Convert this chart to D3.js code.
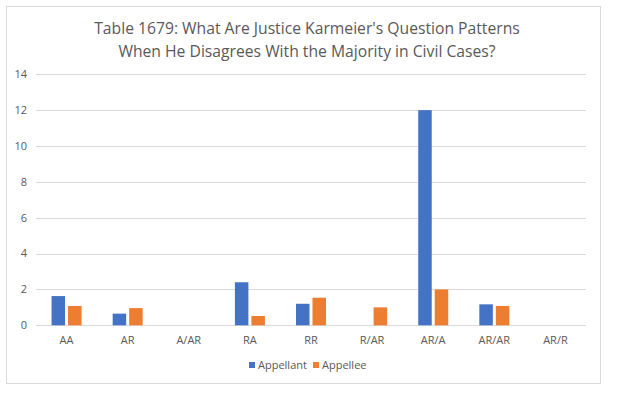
<!DOCTYPE html>
<html>
<head>
<meta charset="utf-8">
<script src="https://cdn.jsdelivr.net/npm/d3@7"></script>
<style>
  body { margin: 0; background: #fff; }
  text { font-family: "Open Sans", "Noto Sans", sans-serif; fill: #595959; }
</style>
</head>
<body>
<svg id="chart" width="620" height="393"></svg>
<script>
var categories = ["AA", "AR", "A/AR", "RA", "RR", "R/AR", "AR/A", "AR/AR", "AR/R"];
var appellant = [1.63, 0.65, 0, 2.4, 1.2, 0, 12, 1.17, 0];
var appellee = [1.08, 0.96, 0, 0.52, 1.54, 1.0, 2.0, 1.08, 0];
var yTicks = [0, 2, 4, 6, 8, 10, 12, 14];
var seriesNames = ["Appellant", "Appellee"];
var COLORS = ["#4472C4", "#ED7D31"];

var svg = d3.select("#chart");

// outer frame
svg.append("rect").attr("x", 6.5).attr("y", 6.5).attr("width", 594).attr("height", 377)
  .attr("fill", "#fff").attr("stroke", "#d9d9d9");

svg.append("text").attr("x", 307).attr("y", 34).attr("text-anchor", "middle")
  .style("font-size", "15.7px").text("Table 1679: What Are Justice Karmeier's Question Patterns");
svg.append("text").attr("x", 307).attr("y", 57).attr("text-anchor", "middle")
  .style("font-size", "15.7px").text("When He Disagrees With the Majority in Civil Cases?");

var plotL = 36, plotR = 586, plotT = 74.3, plotB = 325.3;

var y = d3.scaleLinear().domain([0, 14]).range([plotB, plotT]);
var x = d3.scaleBand().domain(categories).range([plotL, plotR]);
var BARW = 13.5, GAP = 3;

// gridlines
svg.append("g").selectAll("line").data(yTicks).enter().append("line")
  .attr("x1", plotL).attr("x2", plotR)
  .attr("y1", d => Math.round(y(d)) + 0.5).attr("y2", d => Math.round(y(d)) + 0.5)
  .attr("stroke", "#d9d9d9");

svg.append("g").selectAll("text").data(yTicks).enter().append("text")
  .attr("x", 27).attr("y", d => y(d)).attr("dy", "0.35em").attr("text-anchor", "end")
  .style("font-size", "11px").text(d => d);

svg.append("g").selectAll("text").data(categories).enter().append("text")
  .attr("x", d => x(d) + x.bandwidth() / 2).attr("y", 344).attr("text-anchor", "middle")
  .style("font-size", "11px").text(d => d);

[appellant, appellee].forEach((vals, s) => {
  svg.append("g").selectAll("rect").data(vals).enter().append("rect")
    .attr("x", (d, i) => x(categories[i]) + x.bandwidth() / 2 + (s === 0 ? -BARW - GAP / 2 : GAP / 2))
    .attr("y", d => y(d))
    .attr("width", BARW)
    .attr("height", d => y(0) - y(d))
    .attr("fill", COLORS[s]);
});

// legend
var lx = [249, 313];
var legend = svg.append("g").selectAll("g").data(seriesNames).enter().append("g")
  .attr("transform", (d, i) => "translate(" + lx[i] + ",365)");
legend.append("rect").attr("x", 0).attr("y", -3).attr("width", 6).attr("height", 6)
  .attr("fill", (d, i) => COLORS[i]);
legend.append("text").attr("x", 9).attr("dy", "0.35em").style("font-size", "11px").text(d => d);
</script>
</body>
</html>
